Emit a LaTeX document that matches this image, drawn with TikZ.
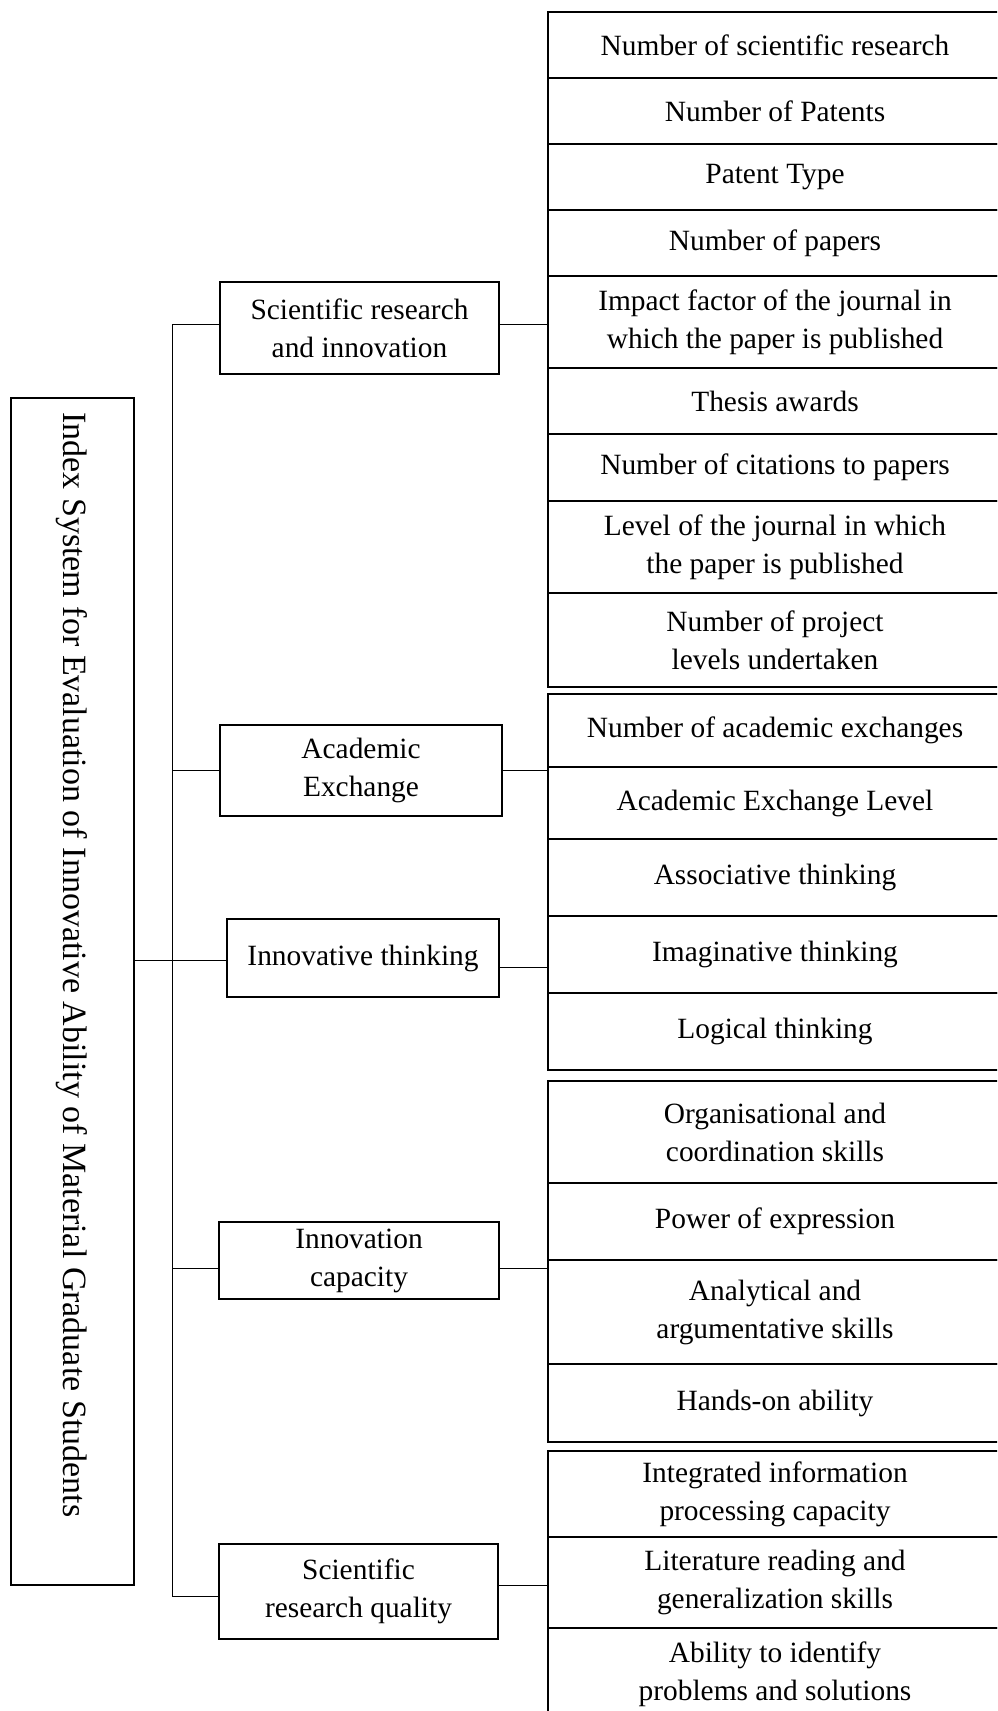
\documentclass[tikz,border=0pt]{standalone}
\usepackage{fontspec}
\setmainfont{Liberation Serif}
\usepackage{tikz}

\begin{document}
\begin{tikzpicture}[x=0.5pt, y=-0.5pt,
  box/.style={draw, line width=0.6pt, align=center, inner sep=0pt, font=\fontsize{14.7pt}{19pt}\selectfont},
  cat/.style={box, minimum width=#1},
  item/.style={box, minimum width=227pt, line width=0.8pt},
  root/.style={draw, line width=0.6pt, minimum width=61.5pt, minimum height=593.5pt, inner sep=0pt},
  title/.style={rotate=-90, anchor=base west, inner sep=0pt, font=\fontsize{17pt}{20pt}\selectfont},
  edge/.style={line width=0.5pt}
]
\useasboundingbox (0,0) rectangle (997,1711);
\clip (0,0) rectangle (997,1711);
\node[root] (root) at (72.5,991.5) {};
\node[title] (title) at (63,412) {Index System for Evaluation of Innovative Ability of Material Graduate Students};
\coordinate (trunk) at (172,0);
\node[cat=139.5pt, minimum height=46pt] (c1) at (359.5,328) {Scientific research\\and innovation};
\node[cat=141pt, minimum height=45.5pt] (c2) at (361,770.5) {Academic\\Exchange};
\node[cat=136pt, minimum height=39pt] (c3) at (363,958) {Innovative thinking};
\node[cat=140pt, minimum height=38.5pt] (c4) at (359,1260.5) {Innovation\\capacity};
\node[cat=139.5pt, minimum height=47.5pt] (c5) at (358.5,1591.5) {Scientific\\research quality};
\node[item, minimum height=33pt] (r1) at (775,45) {Number of scientific research};
\node[item, minimum height=33pt] (r2) at (775,111) {Number of Patents};
\node[item, minimum height=33pt] (r3) at (775,177) {Patent Type};
\node[item, minimum height=33pt] (r4) at (775,243) {Number of papers};
\node[item, minimum height=46pt] (r5) at (775,322) {Impact factor of the journal in\\which the paper is published};
\node[item, minimum height=33pt] (r6) at (775,401) {Thesis awards};
\node[item, minimum height=33.5pt] (r7) at (775,467.5) {Number of citations to papers};
\node[item, minimum height=46pt] (r8) at (775,547) {Level of the journal in which\\the paper is published};
\node[item, minimum height=47pt] (r9) at (775,640) {Number of project\\levels undertaken};
\node[item, minimum height=36.5pt] (r10) at (775,730.5) {Number of academic exchanges};
\node[item, minimum height=36pt] (r11) at (775,803) {Academic Exchange Level};
\node[item, minimum height=38.5pt] (r12) at (775,877.5) {Associative thinking};
\node[item, minimum height=38.5pt] (r13) at (775,954.5) {Imaginative thinking};
\node[item, minimum height=38.5pt] (r14) at (775,1031.5) {Logical thinking};
\node[item, minimum height=51pt] (r15) at (775,1132) {Organisational and\\coordination skills};
\node[item, minimum height=38.5pt] (r16) at (775,1221.5) {Power of expression};
\node[item, minimum height=52pt] (r17) at (775,1312) {Analytical and\\argumentative skills};
\node[item, minimum height=39pt] (r18) at (775,1403) {Hands-on ability};
\node[item, minimum height=43pt] (r19) at (775,1494) {Integrated information\\processing capacity};
\node[item, minimum height=45.5pt] (r20) at (775,1582.5) {Literature reading and\\generalization skills};
\node[item, minimum height=46pt] (r21) at (775,1674) {Ability to identify\\problems and solutions};
\draw[edge] ([yshift=1.5pt]c1.west) -- ([yshift=1.5pt]c1.west -| trunk) -- ([yshift=-2.25pt]c5.west -| trunk) -- ([yshift=-2.25pt]c5.west);
\draw[edge] (c2.west) -- (c2.west -| trunk);
\draw[edge] ([yshift=-3.75pt]c4.west) -- ([yshift=-3.75pt]c4.west -| trunk);
\draw[edge] ([yshift=-1pt]c3.west) -- ([yshift=-1pt]c3.west -| root.east);
\draw[edge] ([yshift=1.5pt]c1.east) -- ([yshift=1.5pt]c1.east -| r5.west);
\draw[edge] (c2.east) -- (c2.east -| r10.west);
\draw[edge] ([yshift=-4.5pt]c3.east) -- ([yshift=-4.5pt]c3.east -| r13.west);
\draw[edge] ([yshift=-3.75pt]c4.east) -- ([yshift=-3.75pt]c4.east -| r16.west);
\draw[edge] ([yshift=3.25pt]c5.east) -- ([yshift=3.25pt]c5.east -| r20.west);
\end{tikzpicture}
\end{document}
